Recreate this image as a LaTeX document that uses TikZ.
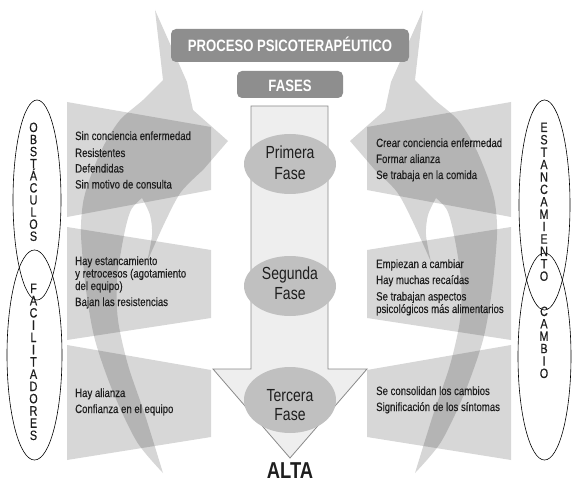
\documentclass[tikz,border=0pt]{standalone}
\usepackage{fontspec}
\setmainfont[FakeStretch=0.8]{Liberation Sans}
\newfontfamily\medfont[FakeStretch=0.8,FakeBold=0.35]{Liberation Sans}
\usetikzlibrary{shapes.geometric}
\definecolor{txtc}{HTML}{1E1E1E}
\definecolor{boxc}{HTML}{8E8E8E}
\definecolor{phasec}{HTML}{C0C0C0}
\definecolor{arrfill}{HTML}{EEEEEE}
\definecolor{arrline}{HTML}{8A8A8A}
\newcommand\mySwoosh{%
  \fill[swoosh] (155,10) -- (187,82) -- (193,110) -- (228,141) -- (203,170)
    -- plot[smooth] coordinates {(203,170) (181,192) (165,222) (147,262)}
    -- plot[smooth] coordinates {(147,262) (152,235) (150,215) (142,198)}
    -- plot[smooth] coordinates {(142,198) (131,210) (124,235) (117,280) (118,320) (128,365) (145,415) (163,473)}
    -- plot[smooth] coordinates {(163,473) (137,442) (113,392) (95,340) (86,290) (81,235) (83,203) (90,178) (103,147) (120,120) (143,100) (163,80)}
    -- cycle;}
\newcommand\myPanels{%
  \fill[panel] (67,102) -- (211,127) -- (211,190) -- (67,217) -- cycle;
  \fill[panel] (67,227) -- (211,250) -- (211,318) -- (67,340) -- cycle;
  \fill[panel] (67,345) -- (211,370) -- (211,437) -- (67,460) -- cycle;}
\begin{document}
\begin{tikzpicture}[x=1bp,y=-1bp,
  swoosh/.style={fill=black,fill opacity=0.16},
  panel/.style={fill=black,fill opacity=0.155},
  bigarrow/.style={fill=arrfill,draw=arrline,line width=0.8bp},
  phase/.style={ellipse,fill=phasec,inner sep=0pt,minimum width=92bp},
  phasetxt/.style={text=txtc,inner sep=0pt,font=\fontsize{17.5bp}{20bp}\selectfont},
  titlebox/.style={fill=boxc,rounded corners=5bp,inner sep=0pt},
  titletxt/.style={text=white,inner sep=0pt,font=\fontsize{16.4bp}{18bp}\selectfont\bfseries},
  txt/.style={text=txtc,inner sep=0pt,anchor=base west,font=\fontsize{12bp}{14bp}\medfont},
  vell/.style={ellipse,draw=black,line width=0.6bp,inner sep=0pt},
  vlet/.style={text=txtc,inner sep=0pt,anchor=base,font=\fontsize{13.5bp}{14bp}\medfont}]
\useasboundingbox (0,0) rectangle (580,488);
% curved arrows
\mySwoosh
\begin{scope}[shift={(578,0)},xscale=-1]
  \mySwoosh
\end{scope}
% panels
\myPanels
\begin{scope}[shift={(578,0)},xscale=-1]
  \myPanels
\end{scope}
% central arrow
\draw[bigarrow] (251,106) -- (328,106) -- (328,369) -- (367,369) -- (290,458) -- (213,369) -- (251,369) -- cycle;
% phases
\node[phase,minimum height=60bp] (e1) at (290,164) {};
\node[phase,minimum height=60bp] (e2) at (290,286) {};
\node[phase,minimum height=66bp] (e3) at (290,400) {};
\node[phasetxt,anchor=base] (p1a) at (290,159) {Primera};
\node[phasetxt,anchor=base] (p1b) at (290,180) {Fase};
\node[phasetxt,anchor=base] (p2a) at (290,279) {Segunda};
\node[phasetxt,anchor=base] (p2b) at (290,299) {Fase};
\node[phasetxt,anchor=base] (p3a) at (290,401) {Tercera};
\node[phasetxt,anchor=base] (p3b) at (290,420) {Fase};
% titles
\node[titlebox,minimum width=238bp,minimum height=33bp] (pbox) at (290,45.5) {};
\node[titletxt,anchor=base] (ptxt) at (290,52) {PROCESO PSICOTERAPÉUTICO};
\node[titlebox,minimum width=106bp,minimum height=27bp] (fbox) at (290,84.5) {};
\node[titletxt,anchor=base] (ftxt) at (290,92) {FASES};
% left texts
\node[txt] (l1a) at (75,140) {Sin conciencia enfermedad};
\node[txt] (l1b) at (75,157) {Resistentes};
\node[txt] (l1c) at (75,172.5) {Defendidas};
\node[txt] (l1d) at (75,188.5) {Sin motivo de consulta};
\node[txt] (l2a) at (75,265) {Hay estancamiento};
\node[txt] (l2b) at (75,277.5) {y retrocesos (agotamiento};
\node[txt] (l2c) at (75,290) {del equipo)};
\node[txt] (l2d) at (75,306) {Bajan las resistencias};
\node[txt] (l3a) at (75,397) {Hay alianza};
\node[txt] (l3b) at (75,413) {Confianza en el equipo};
% right texts
\node[txt] (r1a) at (376,147) {Crear conciencia enfermedad};
\node[txt] (r1b) at (376,163) {Formar alianza};
\node[txt] (r1c) at (376,179) {Se trabaja en la comida};
\node[txt] (r2a) at (376,268) {Empiezan a cambiar};
\node[txt] (r2b) at (376,284) {Hay muchas recaídas};
\node[txt] (r2c) at (376,300.5) {Se trabajan aspectos};
\node[txt] (r2d) at (376,313) {psicológicos más alimentarios};
\node[txt] (r3a) at (376,395) {Se consolidan los cambios};
\node[txt] (r3b) at (376,411) {Significación de los síntomas};
% side ellipses
\node[vell,minimum width=48bp,minimum height=200bp] (obs) at (37,200) {};
\node[vell,minimum width=55bp,minimum height=210bp] (fac) at (34.5,355) {};
\node[vell,minimum width=51bp,minimum height=210bp] (est) at (544.5,205) {};
\node[vell,minimum width=53bp,minimum height=207bp] (cam) at (544.5,356.5) {};
\foreach \l [count=\i from 0] in {O,B,S,T,Á,C,U,L,O,S}
  \node[vlet] (ob\i) at (33.5,{132+12.1*\i}) {\l};
\foreach \l [count=\i from 0] in {F,A,C,I,L,I,T,A,D,O,R,E,S}
  \node[vlet] (fa\i) at (33.5,{293+12.25*\i}) {\l};
\foreach \l [count=\i from 0] in {E,S,T,A,N,C,A,M,I,E,N,T,O}
  \node[vlet] (es\i) at (544,{132+12.4*\i}) {\l};
\foreach \l [count=\i from 0] in {C,A,M,B,I,O}
  \node[vlet] (ca\i) at (544,{316+12.4*\i}) {\l};
% ALTA
\node[text=txtc,inner sep=0pt,anchor=base,font=\fontsize{23bp}{24bp}\selectfont\bfseries] (alta) at (290,478) {ALTA};
\end{tikzpicture}
\end{document}
